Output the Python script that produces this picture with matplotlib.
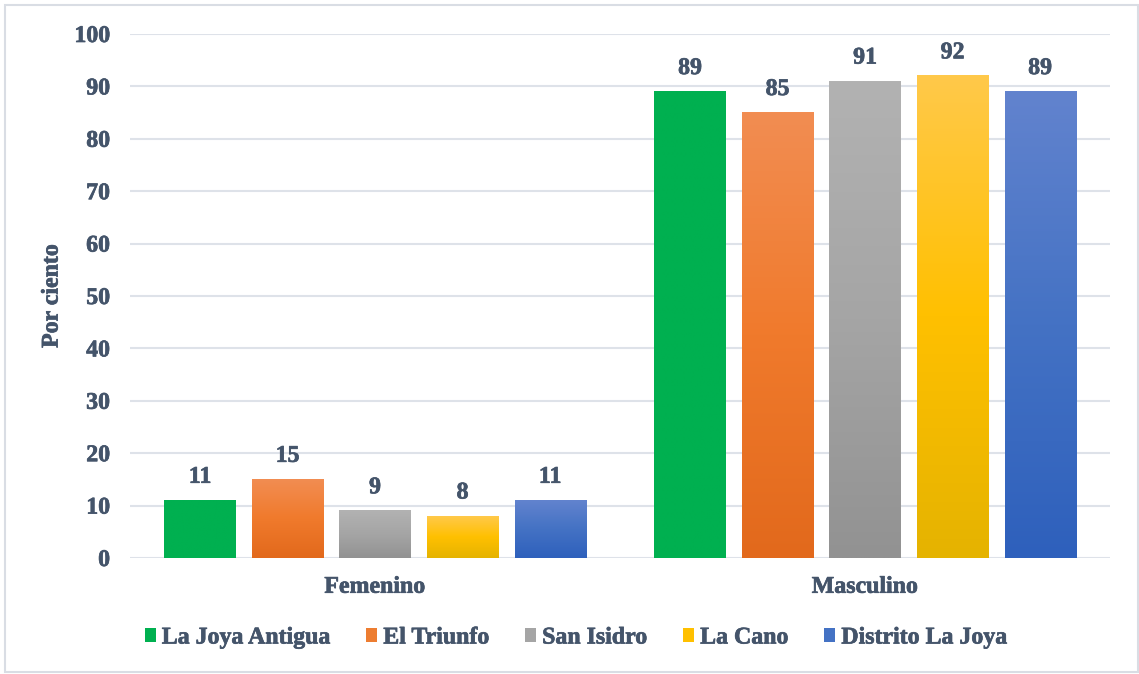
import numpy as np
import matplotlib
matplotlib.use("Agg")
import matplotlib.pyplot as plt
import matplotlib.patheffects as pe
from matplotlib.colors import LinearSegmentedColormap
from matplotlib.patches import Rectangle, Patch

categories = ["Femenino", "Masculino"]
series_names = ["La Joya Antigua", "El Triunfo", "San Isidro", "La Cano", "Distrito La Joya"]
values = {
    "La Joya Antigua": [11, 89],
    "El Triunfo": [15, 85],
    "San Isidro": [9, 91],
    "La Cano": [8, 92],
    "Distrito La Joya": [11, 89],
}
y_ticks = [0, 10, 20, 30, 40, 50, 60, 70, 80, 90, 100]

# top -> bottom gradient stops for each series
gradients = {
    "La Joya Antigua": ["#00B050", "#00B050", "#00B050"],
    "El Triunfo": ["#F28D52", "#F07A2C", "#E2691C"],
    "San Isidro": ["#B2B2B2", "#A5A5A5", "#929292"],
    "La Cano": ["#FFC94A", "#FFC000", "#E5B300"],
    "Distrito La Joya": ["#6283CE", "#4472C4", "#2E60BC"],
}
legend_colors = {
    "La Joya Antigua": "#00B050",
    "El Triunfo": "#ED7D31",
    "San Isidro": "#A5A5A5",
    "La Cano": "#FFC000",
    "Distrito La Joya": "#4472C4",
}

text_color = "#44546A"
grid_color = "#DEE2E9"
fs = 17.2
heavy = [pe.withStroke(linewidth=0.5, foreground=text_color)]
plt.rcParams["font.family"] = ["Liberation Serif", "DejaVu Serif"]
plt.rcParams["font.weight"] = "bold"

W, H = 1139, 674
fig = plt.figure(figsize=(W / 100, H / 100), dpi=100)
ax = fig.add_axes([130 / W, (H - 558) / H, 980 / W, 524 / H])

n = len(series_names)
pitch = 0.1786
width = 0.145

for i, name in enumerate(series_names):
    cmap = LinearSegmentedColormap.from_list(name, gradients[name][::-1])
    grad = np.linspace(0, 1, 256).reshape(-1, 1)
    for j, v in enumerate(values[name]):
        xc = j + (i - (n - 1) / 2) * pitch
        x0, x1 = xc - width / 2, xc + width / 2
        ax.imshow(grad, cmap=cmap, origin="lower", aspect="auto",
                  extent=[x0, x1, 0, v], zorder=3, interpolation="bilinear")
        ax.text(xc, v + 2.4, f"{v}", ha="center", va="bottom",
                fontsize=fs, fontweight="bold", color=text_color, zorder=4,
                path_effects=heavy)

ax.set_xlim(-0.5, 1.5)
ax.set_ylim(0, 100)
ax.set_yticks(y_ticks)
ax.set_xticks(range(len(categories)))
ax.set_xticklabels(categories)
ax.yaxis.grid(True, color=grid_color, linewidth=1.5, zorder=0)
ax.set_axisbelow(True)
for s in ax.spines.values():
    s.set_visible(False)
ax.tick_params(axis="both", length=0, labelsize=fs, labelcolor=text_color)
ax.tick_params(axis="y", pad=14.4)
ax.tick_params(axis="x", pad=13.5)
for lbl in ax.get_xticklabels() + ax.get_yticklabels():
    lbl.set_fontweight("bold")
    lbl.set_path_effects(heavy)
ax.set_ylabel("Por ciento", fontsize=fs, fontweight="bold", color=text_color,
              labelpad=8.5, path_effects=heavy)

handles = [Patch(facecolor=legend_colors[s], edgecolor="none") for s in series_names]
leg = fig.legend(handles, series_names, loc="center", bbox_to_anchor=(576 / W, 1 - 638 / H),
                 ncol=5, frameon=False, fontsize=fs, handlelength=0.46, handleheight=0.5,
                 handletextpad=0.25, columnspacing=1.5)
for t in leg.get_texts():
    t.set_color(text_color)
    t.set_fontweight("bold")
    t.set_path_effects(heavy)

fig.patches.append(Rectangle((4.5 / W, 2 / H), (1137.5 - 4.5) / W, (669 - 2) / H,
                             transform=fig.transFigure, fill=False,
                             edgecolor="#D9DDE4", linewidth=1.5))

fig.savefig("out.png", dpi=100)
